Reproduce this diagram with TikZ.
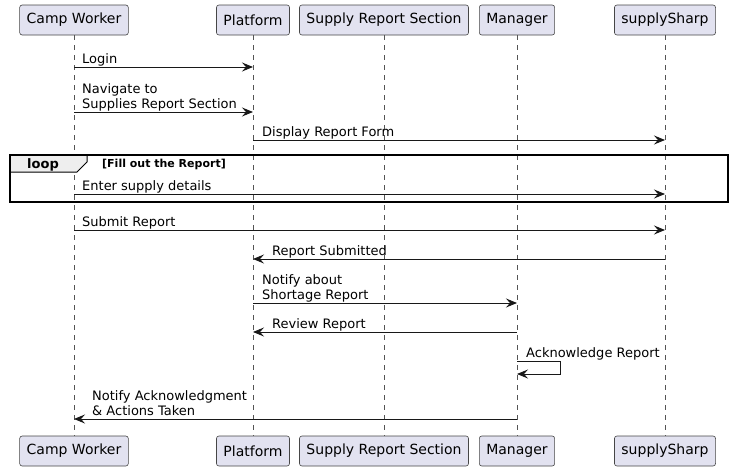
\documentclass[tikz,border=0pt]{standalone}
\usepackage{fontspec}
\setmainfont{DejaVu Sans}
\usetikzlibrary{arrows.meta}
\definecolor{partfill}{HTML}{E2E2F0}
\definecolor{partline}{HTML}{181818}
\definecolor{lifeline}{HTML}{555555}
\definecolor{tabfill}{HTML}{EEEEEE}
\begin{document}
\begin{tikzpicture}[x=1pt,y=-1pt,
  part/.style={draw=partline!80, fill=partfill, rounded corners=2.5pt, line width=0.6pt, minimum height=30pt, inner xsep=7pt, inner ysep=0pt, font=\fontsize{14}{16}\selectfont},
  life/.style={draw=lifeline, line width=0.5pt, dash pattern=on 5pt off 5pt},
  msg/.style={draw=partline, line width=0.9pt, -{Stealth[length=11pt,width=9pt,inset=4pt]}},
  lbl/.style={font=\fontsize{13}{15}\selectfont, inner sep=0pt, anchor=south west, align=left},
  framebox/.style={draw=black, line width=1.5pt},
  tabbox/.style={draw=black, fill=tabfill, line width=1pt},
]
\useasboundingbox (0,0) rectangle (732,471);

% participants
\foreach \n/\x/\t in {cw/74/Camp Worker, p/253/Platform, s/384/Supply Report Section, m/517/Manager, ss/665/supplySharp}{
  \node[part] (\n T) at (\x,20) {\t};
  \node[part] (\n B) at (\x,451) {\t};
  \draw[life] (\n T.south) -- (\n B.north);
}

% loop frame
\draw[tabbox] (10,155) -- (87,155) -- (87,162) -- (77,172) -- (10,172) -- cycle;
\draw[framebox] (10,155) rectangle (728,202);
\node[font=\bfseries\fontsize{13}{15}\selectfont, anchor=base west, inner sep=0pt] (looplbl) at (27,168.5) {loop};
\node[font=\bfseries\fontsize{11}{13}\selectfont, anchor=base west, inner sep=0pt] (loopcond) at (102,167.5) {[Fill out the Report]};

% messages
\draw[msg] (cwT |- 0,67) -- (pT |- 0,67);
\node[lbl] (m1) at (82,68) {Login\strut};

\draw[msg] (cwT |- 0,112) -- (pT |- 0,112);
\node[lbl] (m2) at (82,113) {Navigate to\\Supplies Report Section\strut};

\draw[msg] (pT |- 0,140) -- (ssT |- 0,140);
\node[lbl] (m3) at (262,141) {Display Report Form\strut};

\draw[msg] (cwT |- 0,194) -- (ssT |- 0,194);
\node[lbl] (m4) at (82,195) {Enter supply details\strut};

\draw[msg] (cwT |- 0,230) -- (ssT |- 0,230);
\node[lbl] (m5) at (82,231) {Submit Report\strut};

\draw[msg] (ssT |- 0,259) -- (pT |- 0,259);
\node[lbl] (m6) at (272,260) {Report Submitted\strut};

\draw[msg] (pT |- 0,303) -- (mT |- 0,303);
\node[lbl] (m7) at (262,304) {Notify about\\Shortage Report\strut};

\draw[msg] (mT |- 0,332) -- (pT |- 0,332);
\node[lbl] (m8) at (272,333) {Review Report\strut};

\coordinate (selfa) at (560,361);
\coordinate (selfb) at (560,374);
\draw[msg] (mT |- selfa) -- (selfa) -- (selfb) -- (mT |- selfb);
\node[lbl] (m9) at (526,362) {Acknowledge Report\strut};

\draw[msg] (mT |- 0,419) -- (cwT |- 0,419);
\node[lbl] (m10) at (92,420) {Notify Acknowledgment\\\&{} Actions Taken\strut};
\end{tikzpicture}
\end{document}
